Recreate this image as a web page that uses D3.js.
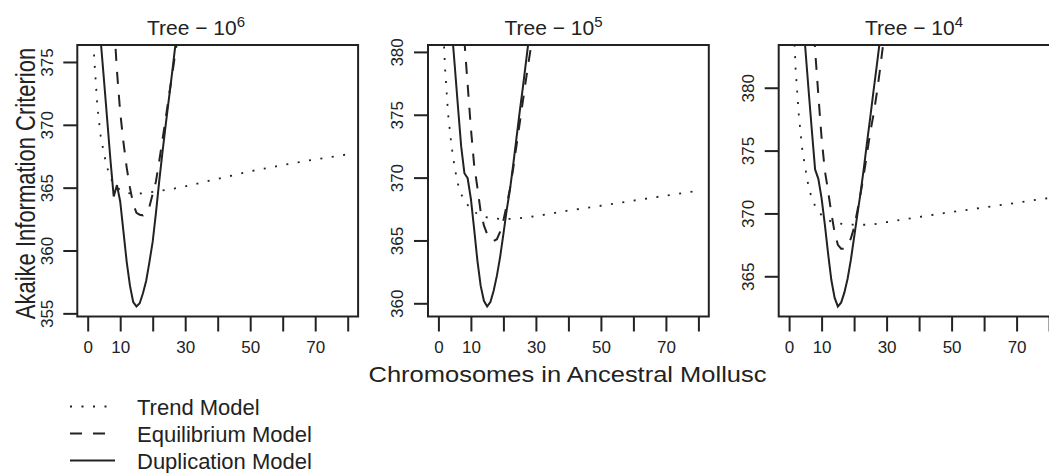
<!DOCTYPE html>
<html lang="en">
<head>
<meta charset="utf-8">
<title>AIC by ancestral chromosome number</title>
<script src="https://cdn.jsdelivr.net/npm/d3@7"></script>
<style>
  body { margin: 0; background: #fff; }
  svg { display: block; font-family: "Liberation Sans", Arial, Helvetica, sans-serif; }
  .tick line { stroke: #222; stroke-width: 2; }
  .tick text { fill: #222; font-size: 17px; }
</style>
</head>
<body>
<div id="chart"></div>
<script>
// ---- data ----
var xTicks = [0, 10, 20, 30, 40, 50, 60, 70, 80];
var xTickLabels = ["0", "10", "", "30", "", "50", "", "70", ""];
var yTicks = [
  [355, 360, 365, 370, 375],
  [360, 365, 370, 375, 380],
  [365, 370, 375, 380]
];
var treeExponents = ["6", "5", "4"];

// trend model
var trendX = [1, 2, 3, 4, 5, 6, 7, 8, 10, 12, 14, 17, 21, 25, 30, 40, 50, 60, 70, 80];
var trendAIC6 = [382, 375.3, 371.4, 369.1, 367.7, 366.6, 365.8, 365.3, 364.8, 364.6, 364.5, 364.55, 364.7, 364.85, 365.1, 365.7, 366.3, 366.8, 367.25, 367.65];
var trendAIC5 = [385, 378.9, 375.0, 372.6, 370.8, 369.5, 368.7, 368.1, 367.55, 367.1, 366.88, 366.74, 366.7, 366.78, 366.93, 367.38, 367.76, 368.17, 368.57, 368.95];
var trendAIC4 = [388, 381.5, 377.8, 375.2, 373.6, 372.1, 371.2, 370.6, 369.85, 369.45, 369.27, 369.13, 369.1, 369.1, 369.3, 369.72, 370.12, 370.47, 370.85, 371.23];

// equilibrium model
var equilX = [6, 7, 8, 9, 10, 11, 12, 13, 14, 15, 16, 17, 18, 19, 20, 21, 22, 23, 24, 25, 26, 27, 28, 29, 30];
var equilAIC6 = [387, 382.5, 378.5, 374.3, 371.0, 368.6, 366.6, 365.0, 363.7, 363.0, 362.85, 362.8, 363.0, 363.5, 364.5, 365.5, 367.1, 368.8, 370.5, 372.3, 374.0, 375.8, 377.5, 379.3, 381.0];
var equilAIC5 = [392, 386, 380.9, 377.4, 373.9, 371.0, 369.2, 367.3, 366.2, 365.5, 365.1, 364.95, 365.1, 365.7, 366.6, 367.8, 369.1, 370.7, 372.5, 374.3, 376.1, 377.9, 379.6, 381.3, 383.0];
var equilAIC4 = [391.5, 387, 383.0, 379.4, 376.0, 373.4, 371.8, 370.0, 368.5, 367.5, 367.2, 367.2, 367.5, 368.0, 368.9, 370.2, 371.6, 373.1, 374.8, 376.5, 377.9, 379.6, 381.5, 383.6, 385.7];

// duplication model
var dupX = [2, 3, 4, 5, 6, 7, 8, 9, 10, 11, 12, 13, 14, 15, 16, 17, 18, 19, 20, 21, 22, 23, 24, 25, 26, 27, 28, 29];
var dupAIC6 = [383, 379.9, 376.7, 373.6, 370.4, 367.2, 364.3, 365.2, 363.9, 361.5, 359.1, 357.2, 355.9, 355.55, 355.8, 356.6, 357.6, 359.1, 360.7, 363.0, 365.5, 367.8, 370.0, 372.1, 374.2, 376.4, 378.5, 380.6];
var dupAIC5 = [389.5, 386, 382.2, 379.0, 375.7, 372.5, 370.35, 369.95, 368.3, 365.9, 363.4, 361.4, 360.2, 359.75, 360.1, 361.0, 362.2, 363.7, 365.5, 367.4, 369.0, 371.0, 373.1, 375.2, 377.2, 379.3, 381.4, 383.5];
var dupAIC4 = [393, 389.8, 386.5, 383.1, 379.8, 376.6, 373.5, 372.75, 371.2, 369.1, 366.8, 364.7, 363.3, 362.6, 362.9, 363.7, 364.8, 366.3, 368.1, 369.9, 371.65, 373.6, 375.7, 377.7, 379.8, 381.8, 383.9, 386.0];

var trendSeries = [trendAIC6, trendAIC5, trendAIC4];
var equilSeries = [equilAIC6, equilAIC5, equilAIC4];
var dupSeries = [dupAIC6, dupAIC5, dupAIC4];

var legendLabels = ["Trend Model", "Equilibrium Model", "Duplication Model"];
var legendDash = ["2,9.5", "12,11", null];

// ---- layout ----
var width = 1049, height = 473;
var panelLeft = [77.3, 428, 778.7];
var titleX = [196, 553.5, 914];
var plotW = 280.8, plotTop = 45, plotBottom = 316.5;
var ink = "#222";

var svg = d3.select("#chart").append("svg")
  .attr("width", width)
  .attr("height", height);

var x = d3.scaleLinear().domain([-3.2, 83.2]).range([0, plotW]);

function drawPanel(i) {
  var g = svg.append("g").attr("transform", "translate(" + panelLeft[i] + ",0)");

  // R style ylim: range of 20 above the duplication minimum, padded 4%
  var lo = d3.min(dupSeries[i]);
  var y = d3.scaleLinear().domain([lo - 0.8, lo + 20.8]).range([plotBottom, plotTop]);

  g.append("clipPath").attr("id", "clip" + i)
    .append("rect")
    .attr("x", 0).attr("y", plotTop)
    .attr("width", plotW).attr("height", plotBottom - plotTop);

  var line = d3.line()
    .x(function(d) { return x(d[0]); })
    .y(function(d) { return y(d[1]); });

  var curves = [
    { xs: trendX, ys: trendSeries[i], dash: legendDash[0], w: 1.8 },
    { xs: equilX, ys: equilSeries[i], dash: legendDash[1], w: 2 },
    { xs: dupX, ys: dupSeries[i], dash: null, w: 2 }
  ];

  var plot = g.append("g").attr("clip-path", "url(#clip" + i + ")");
  curves.forEach(function(c) {
    plot.append("path")
      .datum(d3.zip(c.xs, c.ys))
      .attr("d", line)
      .attr("fill", "none")
      .attr("stroke", ink)
      .attr("stroke-width", c.w)
      .attr("stroke-dasharray", c.dash);
  });

  // box
  g.append("rect")
    .attr("x", 0).attr("y", plotTop)
    .attr("width", plotW).attr("height", plotBottom - plotTop)
    .attr("fill", "none")
    .attr("stroke", ink)
    .attr("stroke-width", 2);

  // x axis
  var xa = g.append("g")
    .attr("transform", "translate(0," + plotBottom + ")")
    .call(d3.axisBottom(x).tickValues(xTicks).tickSize(15)
      .tickFormat(function(d, k) { return xTickLabels[k]; }));
  xa.select(".domain").remove();
  xa.selectAll("text").attr("y", 30.5).attr("dy", "0.35em");

  // y axis, labels parallel to the axis
  var ya = g.append("g")
    .call(d3.axisLeft(y).tickValues(yTicks[i]).tickSize(14));
  ya.select(".domain").remove();
  ya.selectAll("text")
    .attr("x", 0)
    .attr("dy", "0.35em")
    .attr("text-anchor", "middle")
    .attr("transform", "translate(-30.6,0) rotate(-90)");

  // title: Tree - 10^k
  var t = svg.append("text")
    .attr("x", titleX[i]).attr("y", 35)
    .attr("text-anchor", "middle")
    .attr("font-size", 21)
    .attr("fill", ink);
  t.append("tspan").text("Tree \u2212 10");
  t.append("tspan").attr("dy", -8.5).attr("font-size", 15).text(treeExponents[i]);
}

[0, 1, 2].forEach(drawPanel);

// axis titles
svg.append("text")
  .attr("transform", "translate(35,183.5) scale(1.25,1) rotate(-90)")
  .attr("text-anchor", "middle")
  .attr("font-size", 22)
  .attr("fill", ink)
  .text("Akaike Information Criterion");

svg.append("text")
  .attr("x", 567.5).attr("y", 382)
  .attr("text-anchor", "middle")
  .attr("font-size", 22)
  .attr("textLength", 398)
  .attr("lengthAdjust", "spacingAndGlyphs")
  .attr("fill", ink)
  .text("Chromosomes in Ancestral Mollusc");

// legend
var lg = svg.append("g");
legendLabels.forEach(function(lab, k) {
  var by = 414.5 + k * 27;
  lg.append("line")
    .attr("x1", 70).attr("x2", 115)
    .attr("y1", by - 8).attr("y2", by - 8)
    .attr("stroke", ink)
    .attr("stroke-width", k === 0 ? 1.8 : 2)
    .attr("stroke-dasharray", legendDash[k]);
  lg.append("text")
    .attr("x", 137).attr("y", by)
    .attr("font-size", 22)
    .attr("fill", ink)
    .text(lab);
});
</script>
</body>
</html>
